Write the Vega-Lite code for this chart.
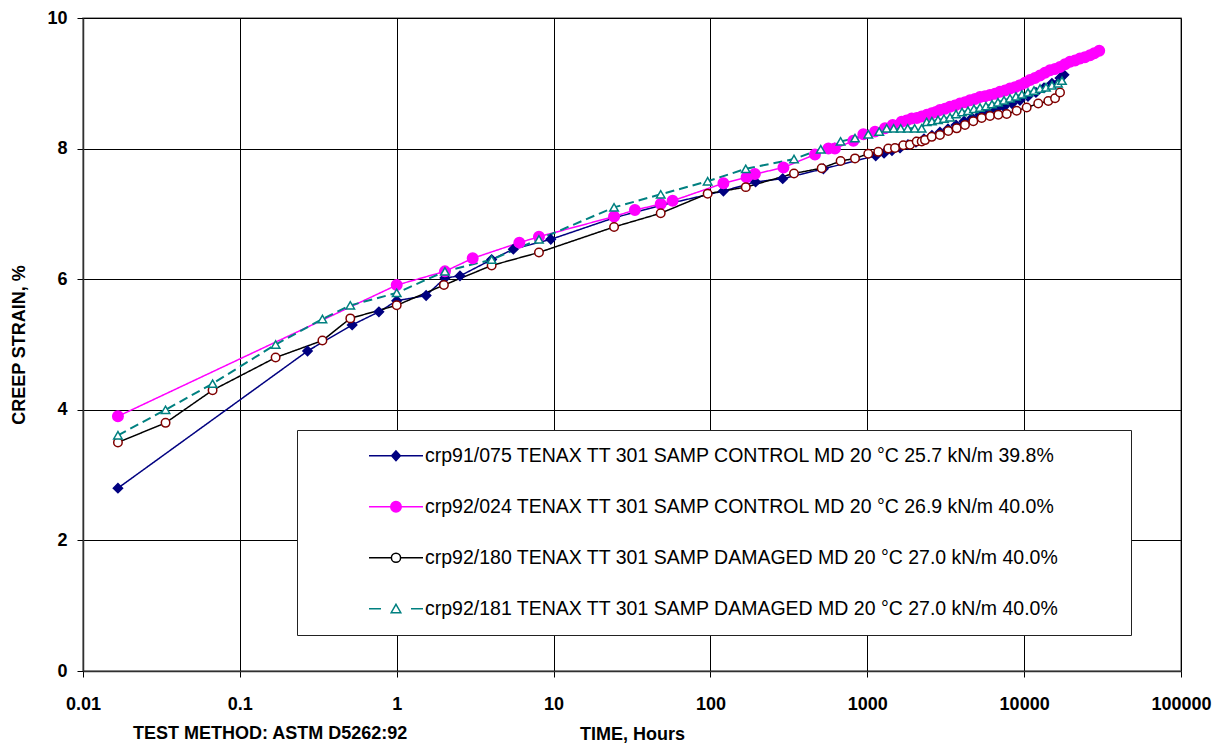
{
  "$schema": "https://vega.github.io/schema/vega-lite/v6.json",
  "width": 1098,
  "height": 653,
  "autosize": {"type": "none"},
  "padding": {"left": 83, "top": 18, "right": 36, "bottom": 73},
  "background": "white",
  "config": {
    "font": "Liberation Sans",
    "view": {"stroke": "#808080", "strokeWidth": 1.5}
  },
  "title": {
    "text": "TEST METHOD: ASTM D5262:92",
    "orient": "bottom",
    "anchor": "start",
    "frame": "group",
    "offset": -18,
    "dx": 50,
    "font": "Liberation Sans",
    "fontSize": 18,
    "fontWeight": "bold",
    "color": "#000000"
  },
  "datasets": {
    "series": [
      {"id": "a", "label": "crp91/075 TENAX TT 301 SAMP CONTROL MD 20 °C 25.7 kN/m 39.8%"},
      {"id": "b", "label": "crp92/024 TENAX TT 301 SAMP CONTROL MD 20 °C 26.9 kN/m 40.0%"},
      {"id": "c", "label": "crp92/180 TENAX TT 301 SAMP DAMAGED MD 20 °C 27.0 kN/m 40.0%"},
      {"id": "d", "label": "crp92/181 TENAX TT 301 SAMP DAMAGED MD 20 °C 27.0 kN/m 40.0%"}
    ],
    "obs": [
      {"id":"a","t":0.0167,"v":2.80},{"id":"a","t":0.27,"v":4.90},{"id":"a","t":0.52,"v":5.30},{"id":"a","t":0.77,"v":5.50},
      {"id":"a","t":1.0,"v":5.67},{"id":"a","t":1.54,"v":5.75},{"id":"a","t":2.03,"v":6.02},{"id":"a","t":2.53,"v":6.05},
      {"id":"a","t":4.03,"v":6.30},{"id":"a","t":5.54,"v":6.46},{"id":"a","t":9.6,"v":6.61},{"id":"a","t":24.3,"v":6.94},
      {"id":"a","t":48.2,"v":7.13},{"id":"a","t":121,"v":7.35},{"id":"a","t":194,"v":7.49},{"id":"a","t":289,"v":7.54},
      {"id":"a","t":525,"v":7.69},{"id":"a","t":1132,"v":7.89},{"id":"a","t":1279,"v":7.93},{"id":"a","t":1437,"v":7.97},
      {"id":"a","t":1617,"v":8.01},{"id":"a","t":1817,"v":8.06},{"id":"a","t":2043,"v":8.10},{"id":"a","t":2298,"v":8.15},
      {"id":"a","t":2583,"v":8.20},{"id":"a","t":2905,"v":8.25},{"id":"a","t":3268,"v":8.30},{"id":"a","t":3680,"v":8.36},
      {"id":"a","t":4140,"v":8.42},{"id":"a","t":4653,"v":8.47},{"id":"a","t":5230,"v":8.52},{"id":"a","t":5885,"v":8.56},
      {"id":"a","t":6615,"v":8.60},{"id":"a","t":7440,"v":8.64},{"id":"a","t":8370,"v":8.69},{"id":"a","t":9410,"v":8.74},
      {"id":"a","t":10580,"v":8.80},{"id":"a","t":11890,"v":8.86},{"id":"a","t":13390,"v":8.93},{"id":"a","t":15040,"v":9.00},
      {"id":"a","t":16930,"v":9.08},{"id":"a","t":17950,"v":9.13},

      {"id":"b","t":0.0167,"v":3.90},{"id":"b","t":1.0,"v":5.91},{"id":"b","t":2.03,"v":6.12},{"id":"b","t":3.05,"v":6.32},
      {"id":"b","t":6.05,"v":6.56},{"id":"b","t":8.07,"v":6.65},{"id":"b","t":24.3,"v":6.96},{"id":"b","t":33,"v":7.06},
      {"id":"b","t":48.2,"v":7.15},{"id":"b","t":57.4,"v":7.20},{"id":"b","t":121,"v":7.47},{"id":"b","t":170,"v":7.56},
      {"id":"b","t":192,"v":7.61},{"id":"b","t":292,"v":7.71},{"id":"b","t":464,"v":7.91},{"id":"b","t":565,"v":8.00},
      {"id":"b","t":622,"v":8.00},{"id":"b","t":815,"v":8.12},{"id":"b","t":944,"v":8.22},{"id":"b","t":1120,"v":8.26},
      {"id":"b","t":1297,"v":8.31},{"id":"b","t":1452,"v":8.36},{"id":"b","t":1656,"v":8.41},{"id":"b","t":1780,"v":8.43},
      {"id":"b","t":1920,"v":8.46},{"id":"b","t":2070,"v":8.47},{"id":"b","t":2222,"v":8.49},{"id":"b","t":2400,"v":8.52},
      {"id":"b","t":2575,"v":8.54},{"id":"b","t":2740,"v":8.56},{"id":"b","t":2905,"v":8.59},{"id":"b","t":3130,"v":8.61},
      {"id":"b","t":3368,"v":8.64},{"id":"b","t":3620,"v":8.66},{"id":"b","t":3900,"v":8.69},{"id":"b","t":4200,"v":8.71},
      {"id":"b","t":4517,"v":8.74},{"id":"b","t":4860,"v":8.76},{"id":"b","t":5230,"v":8.79},{"id":"b","t":5630,"v":8.80},
      {"id":"b","t":6057,"v":8.82},{"id":"b","t":6520,"v":8.84},{"id":"b","t":7015,"v":8.87},{"id":"b","t":7550,"v":8.89},
      {"id":"b","t":8125,"v":8.92},{"id":"b","t":8740,"v":8.94},{"id":"b","t":9410,"v":8.97},{"id":"b","t":10130,"v":9.01},
      {"id":"b","t":10900,"v":9.05},{"id":"b","t":11730,"v":9.08},{"id":"b","t":12620,"v":9.12},{"id":"b","t":13580,"v":9.16},
      {"id":"b","t":14620,"v":9.20},{"id":"b","t":15740,"v":9.22},{"id":"b","t":16930,"v":9.25},{"id":"b","t":18220,"v":9.29},
      {"id":"b","t":19600,"v":9.33},{"id":"b","t":21100,"v":9.35},{"id":"b","t":22700,"v":9.38},{"id":"b","t":24400,"v":9.40},
      {"id":"b","t":26300,"v":9.43},{"id":"b","t":28000,"v":9.46},{"id":"b","t":30100,"v":9.50},

      {"id":"c","t":0.0167,"v":3.50},{"id":"c","t":0.0336,"v":3.80},{"id":"c","t":0.067,"v":4.30},{"id":"c","t":0.169,"v":4.80},
      {"id":"c","t":0.336,"v":5.06},{"id":"c","t":0.506,"v":5.40},{"id":"c","t":1.0,"v":5.60},{"id":"c","t":2.0,"v":5.91},
      {"id":"c","t":4.03,"v":6.21},{"id":"c","t":8.07,"v":6.41},{"id":"c","t":24.3,"v":6.80},{"id":"c","t":48.2,"v":7.01},
      {"id":"c","t":96,"v":7.31},{"id":"c","t":168,"v":7.41},{"id":"c","t":341,"v":7.62},{"id":"c","t":512,"v":7.70},
      {"id":"c","t":676,"v":7.81},{"id":"c","t":835,"v":7.85},{"id":"c","t":1015,"v":7.92},{"id":"c","t":1175,"v":7.95},
      {"id":"c","t":1361,"v":8.00},{"id":"c","t":1502,"v":8.01},{"id":"c","t":1698,"v":8.05},{"id":"c","t":1872,"v":8.06},
      {"id":"c","t":2065,"v":8.11},{"id":"c","t":2222,"v":8.11},{"id":"c","t":2333,"v":8.13},{"id":"c","t":2575,"v":8.18},
      {"id":"c","t":2905,"v":8.21},{"id":"c","t":3283,"v":8.27},{"id":"c","t":3715,"v":8.31},{"id":"c","t":4196,"v":8.36},
      {"id":"c","t":4742,"v":8.42},{"id":"c","t":5360,"v":8.47},{"id":"c","t":6057,"v":8.50},{"id":"c","t":6845,"v":8.52},
      {"id":"c","t":7740,"v":8.53},{"id":"c","t":8960,"v":8.58},{"id":"c","t":10380,"v":8.63},{"id":"c","t":12300,"v":8.69},
      {"id":"c","t":14260,"v":8.73},{"id":"c","t":15740,"v":8.77},{"id":"c","t":16930,"v":8.86},

      {"id":"d","t":0.0167,"v":3.61},{"id":"d","t":0.0336,"v":4.00},{"id":"d","t":0.067,"v":4.40},{"id":"d","t":0.169,"v":5.00},
      {"id":"d","t":0.336,"v":5.39},{"id":"d","t":0.506,"v":5.60},{"id":"d","t":1.0,"v":5.79},{"id":"d","t":2.03,"v":6.12},
      {"id":"d","t":4.03,"v":6.30},{"id":"d","t":8.07,"v":6.61},{"id":"d","t":24.3,"v":7.10},{"id":"d","t":48.2,"v":7.30},
      {"id":"d","t":96,"v":7.50},{"id":"d","t":168,"v":7.69},{"id":"d","t":341,"v":7.84},{"id":"d","t":505,"v":7.99},
      {"id":"d","t":676,"v":8.11},{"id":"d","t":835,"v":8.16},{"id":"d","t":1015,"v":8.22},{"id":"d","t":1192,"v":8.26},
      {"id":"d","t":1330,"v":8.31},{"id":"d","t":1473,"v":8.31},{"id":"d","t":1633,"v":8.31},{"id":"d","t":1810,"v":8.31},
      {"id":"d","t":2005,"v":8.31},{"id":"d","t":2222,"v":8.31},{"id":"d","t":2392,"v":8.41},{"id":"d","t":2583,"v":8.42},
      {"id":"d","t":2825,"v":8.44},{"id":"d","t":3083,"v":8.46},{"id":"d","t":3368,"v":8.48},{"id":"d","t":3680,"v":8.53},
      {"id":"d","t":4018,"v":8.56},{"id":"d","t":4385,"v":8.58},{"id":"d","t":4786,"v":8.61},{"id":"d","t":5230,"v":8.63},
      {"id":"d","t":5710,"v":8.65},{"id":"d","t":6235,"v":8.68},{"id":"d","t":6808,"v":8.71},{"id":"d","t":7440,"v":8.74},
      {"id":"d","t":8125,"v":8.77},{"id":"d","t":8870,"v":8.80},{"id":"d","t":9680,"v":8.83},{"id":"d","t":10580,"v":8.86},
      {"id":"d","t":11550,"v":8.89},{"id":"d","t":12620,"v":8.92},{"id":"d","t":13780,"v":8.94},{"id":"d","t":15040,"v":8.97},
      {"id":"d","t":16440,"v":9.00},{"id":"d","t":17420,"v":9.04}
    ]
  },
  "data": {"name": "obs"},
  "transform": [
    {"lookup": "id", "from": {"data": {"name": "series"}, "key": "id", "fields": ["label"]}}
  ],
  "encoding": {
    "x": {
      "field": "t",
      "type": "quantitative",
      "scale": {"type": "log", "domain": [0.01, 100000], "nice": false},
      "axis": {
        "values": [0.01, 0.1, 1, 10, 100, 1000, 10000, 100000],
        "labelExpr": "'' + datum.value",
        "grid": true,
        "gridColor": "#000000",
        "gridWidth": 1,
        "gridOpacity": 1,
        "tickSize": 6,
        "tickColor": "#000000",
        "domainColor": "#303030",
        "domainWidth": 1.5,
        "labelFont": "Liberation Sans",
        "labelFontSize": 18,
        "labelFontWeight": "bold",
        "labelColor": "#000000",
        "labelPadding": 18,
        "labelFlush": false,
        "labelOverlap": false,
        "title": "TIME, Hours",
        "titleFont": "Liberation Sans",
        "titleFontSize": 18,
        "titleFontWeight": "bold",
        "titleColor": "#000000",
        "titlePadding": 12
      }
    },
    "y": {
      "field": "v",
      "type": "quantitative",
      "scale": {"domain": [0, 10], "nice": false},
      "axis": {
        "values": [0, 2, 4, 6, 8, 10],
        "grid": true,
        "gridColor": "#000000",
        "gridWidth": 1,
        "gridOpacity": 1,
        "tickSize": 6,
        "tickColor": "#000000",
        "domainColor": "#303030",
        "domainWidth": 1.5,
        "labelFont": "Liberation Sans",
        "labelFontSize": 18,
        "labelFontWeight": "bold",
        "labelColor": "#000000",
        "labelPadding": 10,
        "labelFlush": false,
        "title": "CREEP STRAIN, %",
        "titleFont": "Liberation Sans",
        "titleFontSize": 18,
        "titleFontWeight": "bold",
        "titleColor": "#000000",
        "titlePadding": 18
      }
    }
  },
  "layer": [
    {
      "mark": {"type": "line"},
      "encoding": {
        "color": {
          "field": "label",
          "type": "nominal",
          "scale": {
            "domain": [
              "crp91/075 TENAX TT 301 SAMP CONTROL MD 20 °C 25.7 kN/m 39.8%",
              "crp92/024 TENAX TT 301 SAMP CONTROL MD 20 °C 26.9 kN/m 40.0%",
              "crp92/180 TENAX TT 301 SAMP DAMAGED MD 20 °C 27.0 kN/m 40.0%",
              "crp92/181 TENAX TT 301 SAMP DAMAGED MD 20 °C 27.0 kN/m 40.0%"
            ],
            "range": ["#000080", "#FF00FF", "#000000", "#008080"]
          },
          "legend": {
            "title": null,
            "orient": "none",
            "legendX": 214,
            "legendY": 412,
            "padding": 16,
            "strokeColor": "#222222",
            "fillColor": "#FFFFFF",
            "symbolSize": 64,
            "symbolStrokeWidth": 1.5,
            "labelFont": "Liberation Sans",
            "labelFontSize": 19.5,
            "labelColor": "#000000",
            "labelOffset": 92.5,
            "labelLimit": 1000,
            "rowPadding": 30,
            "encode": {
              "symbols": {
                "update": {
                  "shape": {"signal": "indexof(datum.value,'crp91/075')>=0 ? 'M-1.25,0M11.56,0H25.06M18.31,-1.2L19.41,0L18.31,1.2L17.21,0ZM197.2,0' : indexof(datum.value,'crp92/024')>=0 ? 'M-1.25,0M11.56,0H25.06M17.01,0A1.3,1.3 0 1,0 19.61,0A1.3,1.3 0 1,0 17.01,0ZM197.2,0' : indexof(datum.value,'crp92/180')>=0 ? 'M-1.25,0M11.56,0H17.16M19.46,0H25.06M17.16,0A1.15,1.15 0 1,0 19.46,0A1.15,1.15 0 1,0 17.16,0ZM197.2,0' : 'M-1.25,0M11.56,0H14.56M22.06,0H25.06M18.31,-1.1L19.51,1L17.11,1ZM197.2,0'"},
                  "fill": {"signal": "indexof(datum.value,'crp91/075')>=0 ? '#000080' : indexof(datum.value,'crp92/024')>=0 ? '#FF00FF' : '#FFFFFF'"},
                  "stroke": {"signal": "indexof(datum.value,'crp91/075')>=0 ? '#000080' : indexof(datum.value,'crp92/024')>=0 ? '#FF00FF' : indexof(datum.value,'crp92/180')>=0 ? '#800000' : '#008080'"},
                  "strokeWidth": {"value": 1.5},
                  "opacity": {"value": 1},
                  "size": {"value": 64}
                }
              }
            }
          }
        },
        "strokeDash": {
          "field": "id",
          "type": "nominal",
          "scale": {"domain": ["a", "b", "c", "d"], "range": [[1, 0], [1, 0], [1, 0], [9, 5]]},
          "legend": null
        },
        "strokeWidth": {"condition": {"test": "datum.id === 'd'", "value": 2}, "value": 1.5}
      }
    },
    {
      "mark": {"type": "point", "opacity": 1, "strokeWidth": 1.5},
      "encoding": {
        "shape": {
          "field": "id", "type": "nominal",
          "scale": {"domain": ["a", "b", "c", "d"], "range": ["diamond", "circle", "circle", "triangle-up"]},
          "legend": null
        },
        "fill": {
          "field": "id", "type": "nominal",
          "scale": {"domain": ["a", "b", "c", "d"], "range": ["#000080", "#FF00FF", "#FFFFFF", "#FFFFFF"]},
          "legend": null
        },
        "stroke": {
          "field": "id", "type": "nominal",
          "scale": {"domain": ["a", "b", "c", "d"], "range": ["#000080", "#FF00FF", "#800000", "#008080"]},
          "legend": null
        },
        "size": {
          "condition": [
            {"test": "datum.id === 'b'", "value": 110},
            {"test": "datum.id === 'a'", "value": 85}
          ],
          "value": 72
        }
      }
    }
  ]
}
